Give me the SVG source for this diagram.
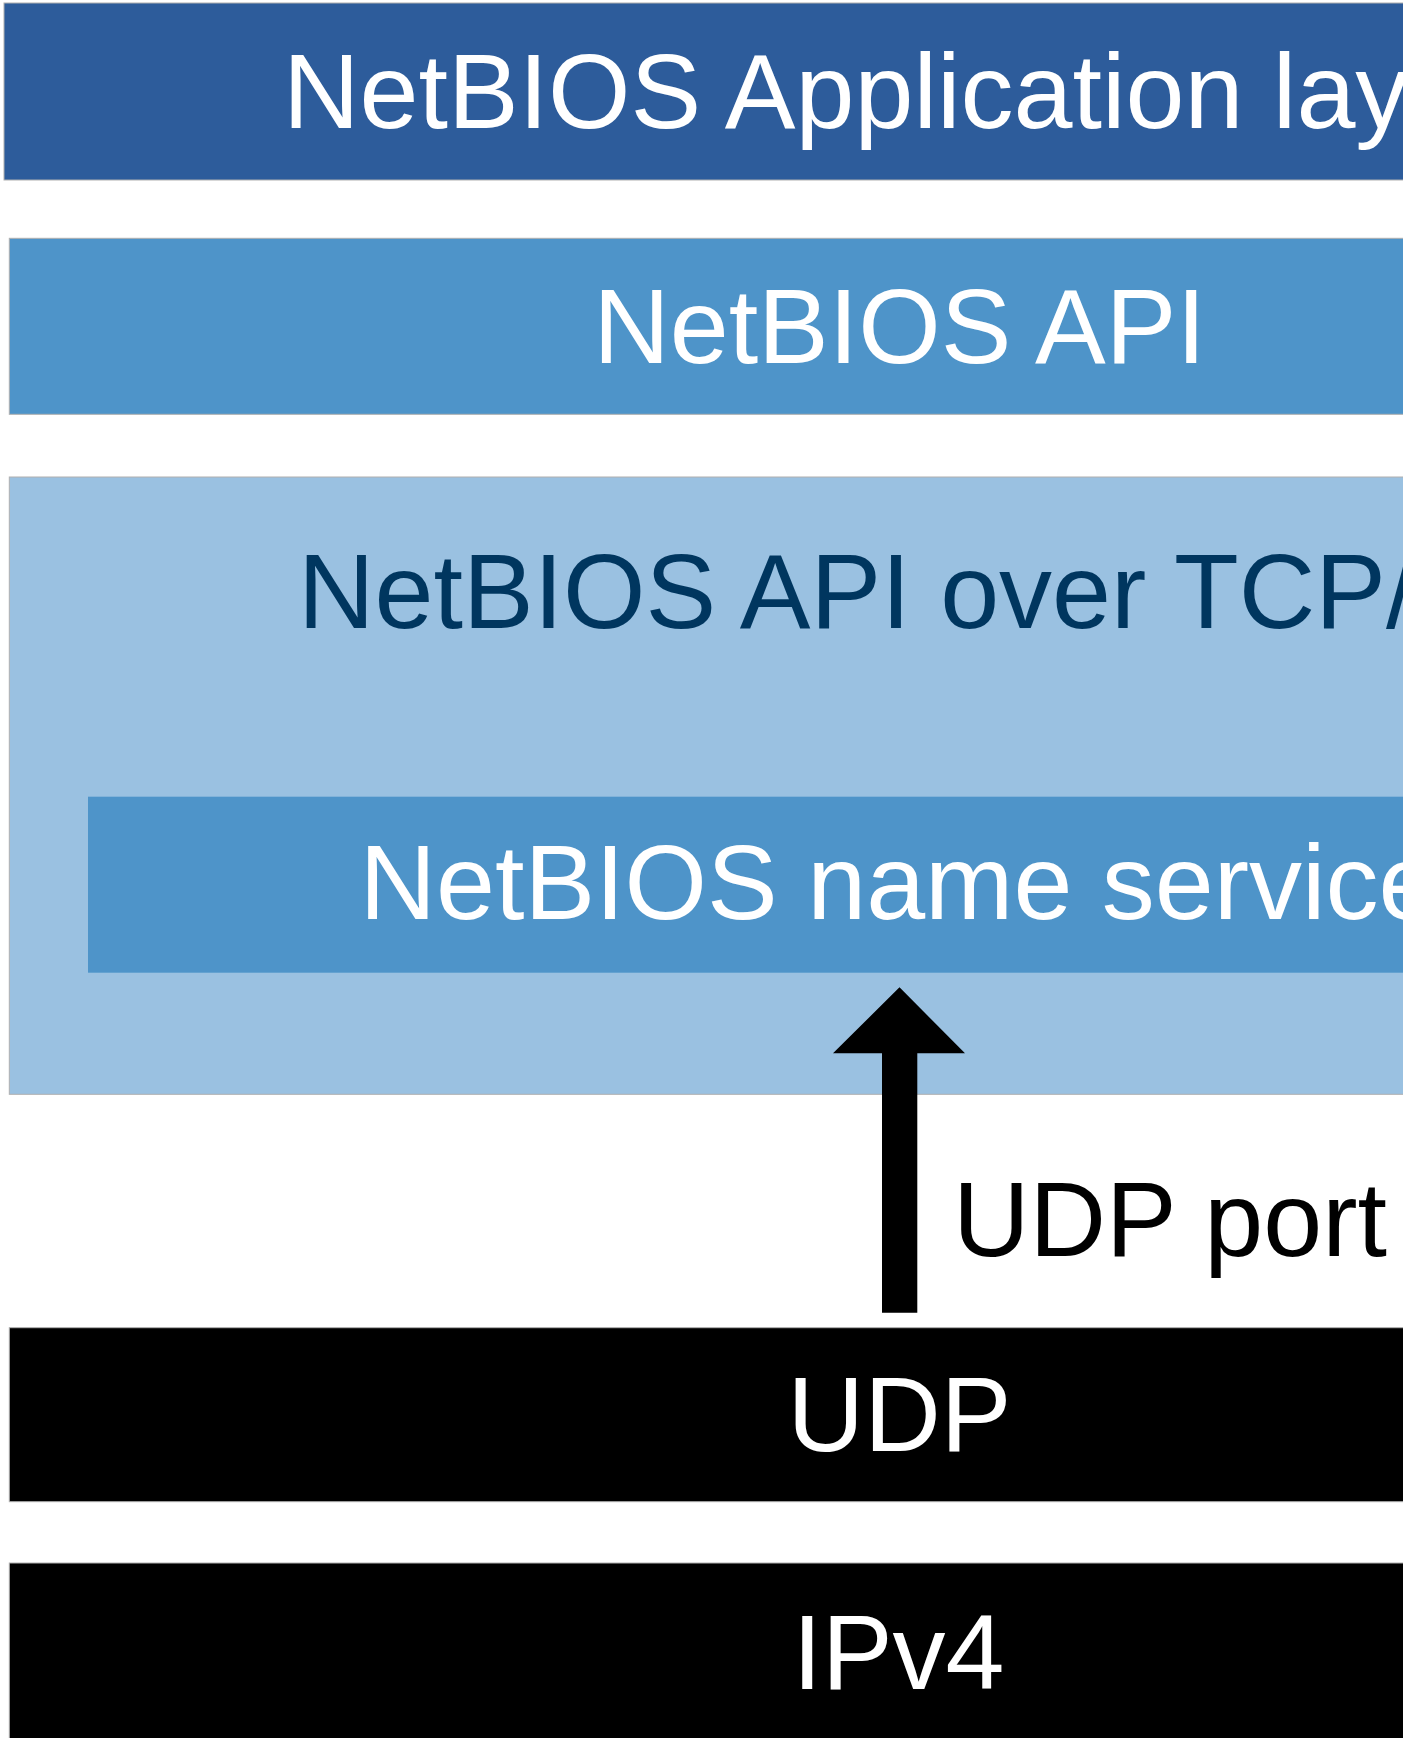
<svg xmlns="http://www.w3.org/2000/svg" width="1403" height="1738" viewBox="0 0 1403 1738">
  <style>
    .lbl { font-family: "Liberation Sans", Arial, Helvetica, sans-serif; font-size: 106px; }
    .w { fill: #ffffff; }
    .k { fill: #000000; }
    .navy { fill: #00365F; }
    .edge { stroke: #b0b0b0; stroke-width: 1; }
  </style>
  <rect width="1403" height="1738" fill="#ffffff"/>
  <g id="app-layer">
    <rect class="edge" x="4" y="3" width="1800" height="177" fill="#2D5C9B"/>
    <text class="lbl w" x="283" y="128.3">NetBIOS Application lay</text>
  </g>
  <g id="netbios-api">
    <rect class="edge" x="9.3" y="238.3" width="1800" height="176" fill="#4E94C9"/>
    <text class="lbl w" x="899.5" y="362.7" text-anchor="middle">NetBIOS API</text>
  </g>
  <g id="netbios-over-tcpip">
    <rect class="edge" x="9.3" y="477" width="1800" height="617.3" fill="#9AC1E1"/>
    <text class="lbl navy" x="298" y="627.5">NetBIOS API over TCP/</text>
  </g>
  <g id="name-service">
    <rect x="88" y="796.7" width="1800" height="176" fill="#4E94C9"/>
    <text class="lbl w" x="359.5" y="918.5">NetBIOS name service</text>
  </g>
  <g id="udp">
    <rect class="edge" x="9.3" y="1327.7" width="1800" height="174" fill="#000000"/>
    <text class="lbl w" x="899.5" y="1450.7" text-anchor="middle">UDP</text>
  </g>
  <g id="ipv4">
    <rect class="edge" x="9.3" y="1563" width="1800" height="200" fill="#000000"/>
    <text class="lbl w" x="898.5" y="1689" text-anchor="middle">IPv4</text>
  </g>
  <g id="connectors">
    <polygon points="882,1312.7 917.3,1312.7 917.3,1053.3 965,1053.3 899.5,987.3 833,1053.3 882,1053.3" fill="#000000"/>
    <text class="lbl k" x="953" y="1256">UDP port</text>
  </g>
</svg>
